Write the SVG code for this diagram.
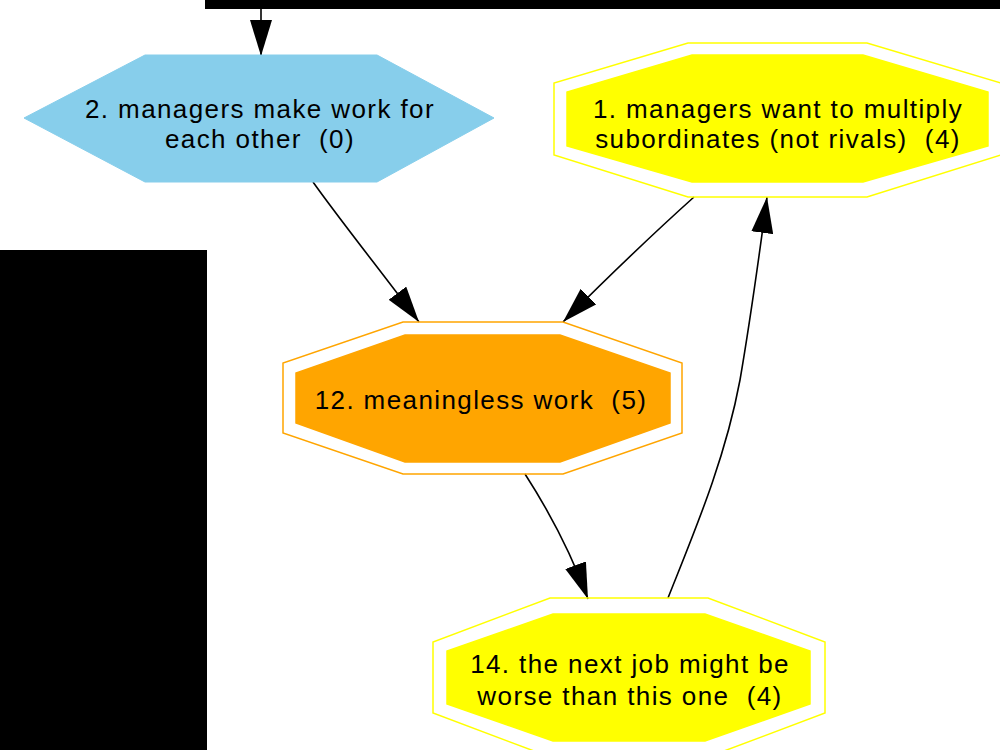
<svg xmlns="http://www.w3.org/2000/svg" width="1000" height="750" viewBox="0 0 1000 750">
  <style>
    .lbl { font-family: "Liberation Sans", Arial, sans-serif; font-size: 26px; letter-spacing: 1.4px; fill: #000; text-anchor: middle; white-space: pre; }
    .edge { fill: none; stroke: #000; stroke-width: 1.6; }
    .ring-y { fill: none; stroke: #ffff00; stroke-width: 1.5; }
    .core-y { fill: #ffff00; stroke: #ffff00; stroke-width: 1.5; }
    .ring-o { fill: none; stroke: #ffa500; stroke-width: 1.5; }
    .core-o { fill: #ffa500; stroke: #ffa500; stroke-width: 1.5; }
  </style>
  <defs>
    <marker id="arrow" viewBox="0 0 36 22" refX="36" refY="11" markerWidth="36" markerHeight="22" markerUnits="userSpaceOnUse" orient="auto">
      <path d="M0,0 L36,11 L0,22 Z" fill="#000"/>
    </marker>
  </defs>

  <rect width="1000" height="750" fill="#fff"/>

  <!-- dark panels -->
  <rect x="205" y="0" width="795" height="9" fill="#000"/>
  <rect x="0" y="250" width="207" height="500" fill="#000"/>

  <g id="connectors">
    <path class="edge" d="M261,9 L261,56" marker-end="url(#arrow)"/>
    <path class="edge" d="M313,182 C340,220 380,270 419,322" marker-end="url(#arrow)"/>
    <path class="edge" d="M694,197 C655,232 605,280 563,322" marker-end="url(#arrow)"/>
    <path class="edge" d="M525,474 C545,505 570,550 588,599" marker-end="url(#arrow)"/>
    <path class="edge" d="M668,598 C695,530 725,460 740,380 C752,310 760,250 767,197" marker-end="url(#arrow)"/>
  </g>

  <g id="node2">
    <polygon points="145,55 377,55 494,118 377,182 145,182 24,118" fill="#87ceeb" stroke="#87ceeb"/>
    <text class="lbl" x="260" y="118">2. managers make work for</text>
    <text class="lbl" x="260" y="148">each other  (0)</text>
  </g>

  <g id="node1">
    <polygon class="ring-y" points="688,43 867,43 1001,83 1001,155 867,197 688,197 554,155 554,83"/>
    <polygon class="core-y" points="692,55 863,55 988,92 988,146 863,182 692,182 567,146 567,92"/>
    <text class="lbl" x="778" y="118">1. managers want to multiply</text>
    <text class="lbl" x="778" y="148">subordinates (not rivals)  (4)</text>
  </g>

  <g id="node12">
    <polygon class="ring-o" points="403,322 563,322 682,363 682,433 563,474 403,474 283,433 283,363"/>
    <polygon class="core-o" points="405,335 560,335 670,373 670,423 560,462 405,462 296,423 296,373"/>
    <text class="lbl" x="481" y="409">12. meaningless work  (5)</text>
  </g>

  <g id="node14">
    <polygon class="ring-y" points="550,598 708,598 825,642 825,713 708,757 550,757 433,713 433,642"/>
    <polygon class="core-y" points="553,614 705,614 810,651 810,704 705,741 553,741 447,704 447,651"/>
    <text class="lbl" x="630" y="673">14. the next job might be</text>
    <text class="lbl" x="630" y="705">worse than this one  (4)</text>
  </g>
</svg>
